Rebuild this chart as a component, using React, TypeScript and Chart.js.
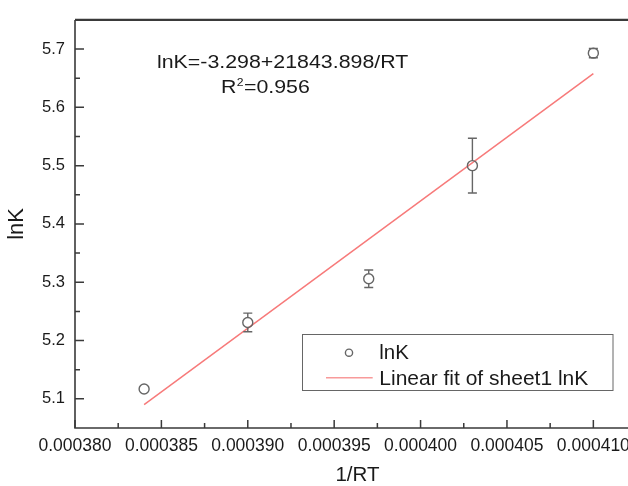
import React, { useEffect, useRef } from 'react';
import { Chart, registerables } from 'chart.js';

Chart.register(...registerables);

// ---- data ----
const invRT = [0.000384, 0.00039, 0.000397, 0.000403, 0.00041];
const lnK = [5.117, 5.231, 5.306, 5.5, 5.693];
const lnKErr = [0, 0.016, 0.015, 0.047, 0.008];
const fitX = [0.000384, 0.00041];
const fitY = [5.09, 5.658];

const xTickValues = [0.00038, 0.000385, 0.00039, 0.000395, 0.0004, 0.000405, 0.00041];
const xTickLabels = ['0.000380', '0.000385', '0.000390', '0.000395', '0.000400', '0.000405', '0.000410'];
const xMinorValues = [0.0003825, 0.0003875, 0.0003925, 0.0003975, 0.0004025, 0.0004075, 0.0004125];
const yTickValues = [5.1, 5.2, 5.3, 5.4, 5.5, 5.6, 5.7];
const yTickLabels = ['5.1', '5.2', '5.3', '5.4', '5.5', '5.6', '5.7'];
const yMinorValues = [5.15, 5.25, 5.35, 5.45, 5.55, 5.65];

const xTitle = '1/RT';
const yTitle = 'lnK';
const equationText = 'lnK=-3.298+21843.898/RT';
const r2Value = '=0.956';
const legendLabels = ['lnK', 'Linear fit of sheet1 lnK'];

const FONT = "'Liberation Sans', Arial, sans-serif";
const TEXT = '#1a1a1a';
const AXIS = '#3a3a3a';
const POINT = '#666666';
const FIT = '#f77a7a';

const decorPlugin = {
  id: 'decor',
  afterDatasetsDraw(chart: any) {
    const { ctx, scales } = chart;
    const xs = scales.x;
    const ys = scales.y;
    const r = 5;
    ctx.save();
    ctx.strokeStyle = POINT;
    ctx.lineWidth = 1.4;
    for (let i = 0; i < invRT.length; i++) {
      if (!(lnKErr[i] > 0)) continue;
      const px = xs.getPixelForValue(invRT[i]);
      const cy = ys.getPixelForValue(lnK[i]);
      const top = ys.getPixelForValue(lnK[i] + lnKErr[i]);
      const bot = ys.getPixelForValue(lnK[i] - lnKErr[i]);
      ctx.beginPath();
      if (top < cy - r) {
        ctx.moveTo(px, top);
        ctx.lineTo(px, cy - r);
      }
      if (bot > cy + r) {
        ctx.moveTo(px, cy + r);
        ctx.lineTo(px, bot);
      }
      ctx.moveTo(px - 4.5, top);
      ctx.lineTo(px + 4.5, top);
      ctx.moveTo(px - 4.5, bot);
      ctx.lineTo(px + 4.5, bot);
      ctx.stroke();
    }
    ctx.restore();
  },
  afterDraw(chart: any) {
    const { ctx, scales, chartArea } = chart;
    const xs = scales.x;
    const ys = scales.y;
    ctx.save();
    // axes frame
    ctx.strokeStyle = AXIS;
    ctx.lineWidth = 1.6;
    ctx.beginPath();
    ctx.moveTo(chartArea.left, chartArea.top);
    ctx.lineTo(chartArea.left, chartArea.bottom);
    ctx.lineTo(chartArea.right, chartArea.bottom);
    ctx.stroke();
    ctx.lineWidth = 2.2;
    ctx.beginPath();
    ctx.moveTo(chartArea.left, chartArea.top);
    ctx.lineTo(chartArea.right, chartArea.top);
    ctx.stroke();
    // inward ticks
    ctx.lineWidth = 1.5;
    ctx.beginPath();
    yTickValues.forEach((v) => {
      const py = ys.getPixelForValue(v);
      ctx.moveTo(chartArea.left, py);
      ctx.lineTo(chartArea.left + 9, py);
    });
    yMinorValues.forEach((v) => {
      const py = ys.getPixelForValue(v);
      ctx.moveTo(chartArea.left, py);
      ctx.lineTo(chartArea.left + 5, py);
    });
    xTickValues.forEach((v) => {
      const px = xs.getPixelForValue(v);
      ctx.moveTo(px, chartArea.bottom);
      ctx.lineTo(px, chartArea.bottom - 8);
    });
    xMinorValues.forEach((v) => {
      const px = xs.getPixelForValue(v);
      ctx.moveTo(px, chartArea.bottom);
      ctx.lineTo(px, chartArea.bottom - 5);
    });
    ctx.stroke();

    // equation annotation
    ctx.fillStyle = TEXT;
    ctx.textBaseline = 'alphabetic';
    ctx.textAlign = 'left';
    const sx = 1.22;
    ctx.save();
    ctx.translate(157, 67.5);
    ctx.scale(sx, 1);
    ctx.font = `17.5px ${FONT}`;
    ctx.fillText(equationText, 0, 0);
    ctx.restore();

    ctx.save();
    ctx.translate(221, 93.3);
    ctx.scale(sx, 1);
    ctx.font = `17.5px ${FONT}`;
    ctx.fillText('R', 0, 0);
    const rw = ctx.measureText('R').width;
    ctx.font = `10px ${FONT}`;
    ctx.fillText('2', rw + 0.3, -7);
    const sw = ctx.measureText('2').width;
    ctx.font = `17.5px ${FONT}`;
    ctx.fillText(r2Value, rw + sw + 0.6, 0);
    ctx.restore();

    // legend box
    ctx.strokeStyle = '#666666';
    ctx.lineWidth = 1;
    ctx.strokeRect(302.5, 334.5, 310.5, 56);
    ctx.strokeStyle = POINT;
    ctx.lineWidth = 1.4;
    ctx.beginPath();
    ctx.arc(349, 352.7, 3.6, 0, Math.PI * 2);
    ctx.stroke();
    ctx.strokeStyle = '#f89a9a';
    ctx.lineWidth = 1.6;
    ctx.beginPath();
    ctx.moveTo(326, 377.7);
    ctx.lineTo(372.7, 377.7);
    ctx.stroke();
    ctx.fillStyle = TEXT;
    ctx.font = `20.5px ${FONT}`;
    ctx.fillText(legendLabels[0], 379.3, 359.3);
    ctx.font = `21px ${FONT}`;
    ctx.fillText(legendLabels[1], 379.3, 385);
    ctx.restore();
  },
};

export default function App() {
  const canvasRef = useRef<HTMLCanvasElement | null>(null);

  useEffect(() => {
    const canvas = canvasRef.current;
    if (!canvas) return;
    const chart = new Chart(canvas, {
      type: 'scatter',
      data: {
        datasets: [
          {
            label: legendLabels[0],
            data: invRT.map((x, i) => ({ x, y: lnK[i] })),
            pointStyle: 'circle',
            pointRadius: 5,
            pointBorderWidth: 1.4,
            pointBorderColor: POINT,
            pointBackgroundColor: 'rgba(255,255,255,0)',
            order: 0,
          },
          {
            label: legendLabels[1],
            data: fitX.map((x, i) => ({ x, y: fitY[i] })),
            showLine: true,
            borderColor: FIT,
            borderWidth: 1.5,
            pointRadius: 0,
            order: 1,
          } as any,
        ],
      },
      options: {
        responsive: false,
        animation: false,
        events: [],
        layout: { padding: { top: 11, right: 20, left: 0, bottom: 0 } },
        plugins: {
          legend: { display: false },
          tooltip: { enabled: false },
        },
        scales: {
          x: {
            type: 'linear',
            min: 0.00038,
            max: 0.0004127,
            afterBuildTicks: (scale: any) => {
              scale.ticks = xTickValues.map((v) => ({ value: v }));
            },
            afterFit: (scale: any) => {
              scale.height = 58;
            },
            grid: { display: false, drawTicks: false },
            border: { display: false },
            ticks: {
              padding: 8,
              maxRotation: 0,
              autoSkip: false,
              color: TEXT,
              font: { family: FONT, size: 17.5 },
              callback: (_v: any, i: number) => xTickLabels[i],
            },
            title: {
              display: true,
              text: xTitle,
              color: TEXT,
              font: { family: FONT, size: 20.5, lineHeight: 1 },
              padding: { top: 0, bottom: 0 },
            },
          },
          y: {
            type: 'linear',
            min: 5.05,
            max: 5.75,
            afterBuildTicks: (scale: any) => {
              scale.ticks = yTickValues.map((v) => ({ value: v }));
            },
            afterFit: (scale: any) => {
              scale.width = 75;
            },
            grid: { display: false, drawTicks: false },
            border: { display: false },
            ticks: {
              padding: 10,
              autoSkip: false,
              color: TEXT,
              font: { family: FONT, size: 16.5 },
              callback: (_v: any, i: number) => yTickLabels[i],
            },
            title: {
              display: true,
              text: yTitle,
              color: TEXT,
              font: { family: FONT, size: 22, lineHeight: 1 },
              padding: { top: 5.5, bottom: 0 },
            },
          },
        },
      },
      plugins: [decorPlugin],
    });
    return () => chart.destroy();
  }, []);

  return (
    <div
      style={{
        position: 'fixed',
        left: 0,
        top: 0,
        width: 628,
        height: 486,
        overflow: 'hidden',
        background: '#ffffff',
      }}
    >
      <canvas ref={canvasRef} width={660} height={486} style={{ display: 'block' }} />
    </div>
  );
}
